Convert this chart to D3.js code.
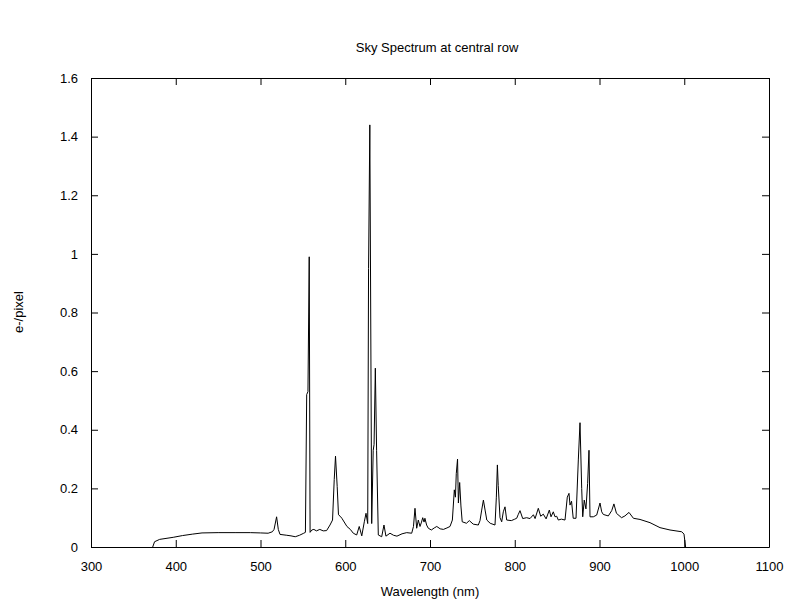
<!DOCTYPE html>
<html>
<head>
<meta charset="utf-8">
<script src="https://cdn.jsdelivr.net/npm/d3@7"></script>
<style>
  body { margin: 0; background: #fff; }
  text { font-family: "Liberation Sans", Arial, sans-serif; }
</style>
</head>
<body>
<script>
// chart data
const wavelength = [372.8, 375, 381, 397, 408, 420, 431, 450, 470, 488, 500, 509, 514, 516, 519, 521, 523,
  531, 536, 541, 546, 551, 553, 554.5, 556, 557.5, 558.5, 560.5, 563, 566, 570, 574, 578, 582, 585, 587,
  588.5, 590.5, 592, 594, 596, 602, 606, 609.5, 613.5, 616.5, 619.5, 622.5, 624.5, 626.5, 627.5, 629,
  631.2, 633, 634, 635.5, 637, 639, 643, 645.7, 648, 652.8, 657, 661, 667, 672.5, 678.4, 680.5, 682.3,
  684.3, 686.2, 688.2, 690, 691.4, 693, 694, 696, 698, 701.6, 705, 708, 712, 715.8, 720, 723.6, 726.4,
  728.7, 730, 731, 732.5, 733.5, 735, 736.5, 738, 743, 746.4, 751, 757, 759, 761, 763, 765, 767, 771,
  776.7, 778.3, 779.5, 780.5, 782.6, 784.6, 786.5, 788.5, 790.5, 796, 800, 802.3, 804, 806.2, 809.4,
  814, 818, 822, 824, 827.8, 830.6, 833.7, 837, 840.8, 842.8, 845.5, 847.5, 849.5, 851.4, 855, 859.3,
  862, 864, 865.2, 867, 869, 872.3, 875, 877, 879, 880.2, 882, 884, 886, 887.6, 888.8, 892.7, 896.7,
  900.6, 902.6, 904.5, 910.4, 914.4, 917, 920, 926, 930, 934.8, 940, 947.8, 959.6, 971.4, 983.2, 997,
  999.7, 1001.6];
const flux = [0, 0.018, 0.026, 0.033, 0.039, 0.044, 0.048, 0.049, 0.049, 0.049, 0.048, 0.047, 0.052, 0.06,
  0.103, 0.06, 0.043, 0.04, 0.038, 0.035, 0.04, 0.047, 0.05, 0.52, 0.53, 0.99, 0.05, 0.058, 0.06, 0.055,
  0.06, 0.055, 0.056, 0.075, 0.092, 0.23, 0.31, 0.206, 0.11, 0.105, 0.098, 0.07, 0.06, 0.047, 0.041,
  0.07, 0.038, 0.086, 0.115, 0.08, 0.95, 1.44, 0.08, 0.33, 0.35, 0.61, 0.33, 0.041, 0.035, 0.075, 0.037,
  0.047, 0.04, 0.037, 0.045, 0.049, 0.047, 0.07, 0.132, 0.064, 0.092, 0.07, 0.085, 0.1, 0.085, 0.098,
  0.075, 0.064, 0.058, 0.065, 0.07, 0.062, 0.06, 0.065, 0.07, 0.092, 0.195, 0.17, 0.25, 0.3, 0.15, 0.22,
  0.14, 0.086, 0.081, 0.09, 0.078, 0.075, 0.09, 0.126, 0.16, 0.126, 0.092, 0.081, 0.075, 0.17, 0.28,
  0.21, 0.1, 0.086, 0.12, 0.137, 0.092, 0.09, 0.095, 0.098, 0.11, 0.124, 0.097, 0.1, 0.097, 0.11, 0.097,
  0.132, 0.105, 0.112, 0.096, 0.126, 0.103, 0.12, 0.103, 0.105, 0.092, 0.095, 0.092, 0.17, 0.183, 0.143,
  0.156, 0.098, 0.098, 0.297, 0.424, 0.2, 0.103, 0.16, 0.13, 0.217, 0.33, 0.103, 0.103, 0.109, 0.15,
  0.12, 0.111, 0.106, 0.124, 0.147, 0.115, 0.1, 0.106, 0.118, 0.098, 0.094, 0.083, 0.066, 0.058, 0.052,
  0.044, 0];
const xTicks = [300, 400, 500, 600, 700, 800, 900, 1000, 1100];
const yTicks = [0, 0.2, 0.4, 0.6, 0.8, 1, 1.2, 1.4, 1.6];
const yTickLabels = ["0", "0.2", "0.4", "0.6", "0.8", "1", "1.2", "1.4", "1.6"];

const w = 795
const h = 604
const margin = {top: 78, right: 26, bottom: 57, left: 91};
const iw = w - margin.left - margin.right;
const ih = h - margin.top - margin.bottom;

const svg = d3.select("body")
  .append("svg")
  .attr("width", w)
  .attr("height", h);

const g = svg.append("g")
  .attr("transform", `translate(${margin.left},${margin.top})`);

const x = d3.scaleLinear().domain([300, 1100]).range([0, iw]);
const y = d3.scaleLinear().domain([0, 1.6]).range([ih, 0]);

// gnuplot style: inward ticks mirrored on all four sides
g.append("g")
  .attr("transform", `translate(0,${ih})`)
  .call(d3.axisBottom(x).tickValues(xTicks).tickSizeInner(-7).tickSizeOuter(0).tickPadding(15)
    .tickFormat(d3.format("d")));
g.append("g")
  .call(d3.axisTop(x).tickValues(xTicks).tickSizeInner(-7).tickSizeOuter(0).tickFormat(""));
g.append("g")
  .call(d3.axisLeft(y).tickValues(yTicks).tickSizeInner(-7).tickSizeOuter(0).tickPadding(13)
    .tickFormat((d, i) => yTickLabels[i]));
g.append("g")
  .attr("transform", `translate(${iw},0)`)
  .call(d3.axisRight(y).tickValues(yTicks).tickSizeInner(-7).tickSizeOuter(0).tickFormat(""));

g.selectAll(".tick text")
  .attr("font-size", 13)
  .attr("fill", "#000")
  .style("font-family", "'Liberation Sans', Arial, sans-serif");
g.selectAll(".domain, .tick line").attr("stroke", "#000");

// spectrum line
const points = wavelength.map((d, i) => [d, flux[i]]);
const line = d3.line().x(d => x(d[0])).y(d => y(d[1]));
g.append("path")
  .datum(points)
  .attr("fill", "none")
  .attr("stroke", "#000")
  .attr("stroke-width", 1)
  .attr("d", line);

// titles
svg.append("text")
  .attr("x", 437).attr("y", 52)
  .attr("text-anchor", "middle")
  .attr("font-size", 13)
  .text("Sky Spectrum at central row");
svg.append("text")
  .attr("x", 430).attr("y", 596)
  .attr("text-anchor", "middle")
  .attr("font-size", 13)
  .text("Wavelength (nm)");
svg.append("text")
  .attr("transform", "translate(23,312) rotate(-90)")
  .attr("text-anchor", "middle")
  .attr("font-size", 13)
  .text("e-/pixel");
</script>
</body>
</html>
